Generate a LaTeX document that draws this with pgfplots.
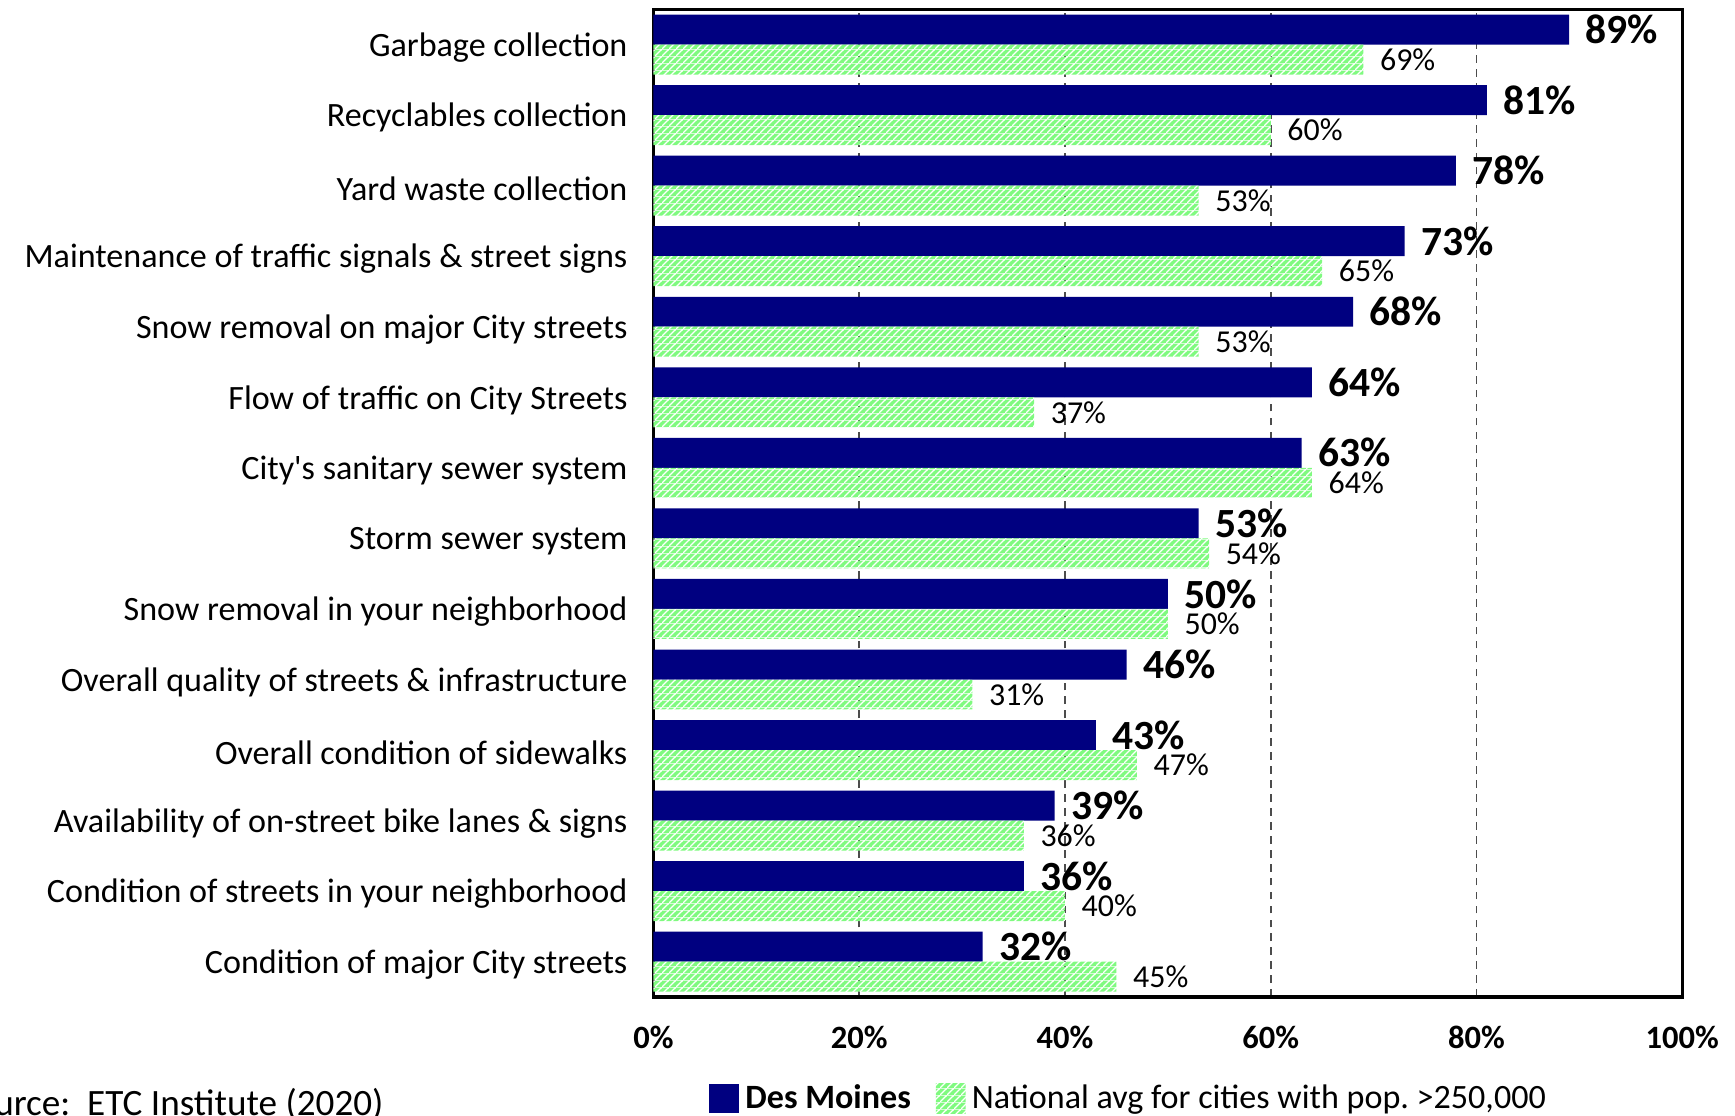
\documentclass[border=0pt]{standalone}
\usepackage{fontspec}
\setmainfont{Carlito}
\usepackage{pgfplots}
\pgfplotsset{compat=1.18}
\usetikzlibrary{patterns}
\definecolor{navy}{RGB}{0,0,128}
\definecolor{lgreen}{RGB}{128,250,128}
\pgfdeclarepatterninherentlycolored{glines}{\pgfpointorigin}{\pgfqpoint{2.3pt}{2.3pt}}{\pgfqpoint{2.3pt}{2.3pt}}{%
  \pgfsetfillcolor{lgreen}%
  \pgfpathrectangle{\pgfpointorigin}{\pgfqpoint{2.3pt}{2.3pt}}%
  \pgfusepath{fill}%
  \pgfsetstrokecolor{white}%
  \pgfsetlinewidth{0.42pt}%
  \pgfpathmoveto{\pgfqpoint{-0.3pt}{-0.3pt}}%
  \pgfpathlineto{\pgfqpoint{2.6pt}{2.6pt}}%
  \pgfusepath{stroke}%
}
\pgfplotstableread{
y dm nat
0 32 45
1 36 40
2 39 36
3 43 47
4 46 31
5 50 50
6 53 54
7 63 64
8 64 37
9 68 53
10 73 65
11 78 53
12 81 60
13 89 69
}\datatable
\begin{document}
\begin{tikzpicture}
\begin{axis}[
  name=ax,
  xbar,
  scale only axis, width=332.1pt, height=318.8pt,
  xmin=0, xmax=100, ymin=-0.5, ymax=13.5,
  enlargelimits=false,
  axis line style={line width=1.1pt},
  xtick={0,20,40,60,80,100},
  xticklabels={0\%,20\%,40\%,60\%,80\%,100\%},
  xticklabel style={font=\fontsize{10.5}{12}\selectfont\bfseries, inner sep=0pt, yshift=-9.2pt},
  ytick={0,...,13},
  yticklabels={Condition of major City streets,
    Condition of streets in your neighborhood,
    Availability of on-street bike lanes \& signs,
    Overall condition of sidewalks,
    Overall quality of streets \& infrastructure,
    Snow removal in your neighborhood,
    Storm sewer system,
    City\textquotesingle s sanitary sewer system,
    Flow of traffic on City Streets,
    Snow removal on major City streets,
    Maintenance of traffic signals \& street signs,
    Yard waste collection,
    Recyclables collection,
    Garbage collection},
  yticklabel style={font=\fontsize{11}{13}\selectfont, inner sep=0pt, xshift=-8.2pt, yshift=-0.9pt},
  major tick length=0pt,
  xmajorgrids,
  grid style={dash pattern=on 2.5pt off 2pt, black!70, line width=0.5pt},
  bar width=9.68pt,
  point meta=x,
  nodes near coords={\pgfmathprintnumber[assume math mode=true]{\pgfplotspointmeta}\%},
  nodes near coords style={anchor=west, inner sep=0pt, xshift=5.2pt, text=black},
  legend columns=2,
  legend image code/.code={\path[#1] (0pt,-4.8pt) rectangle (9.6pt,4.8pt);},
  legend style={at={(rel axis cs:0,0)}, anchor=west, xshift=17.9pt, yshift=-32.8pt,
    draw=none, inner sep=0pt, font=\fontsize{11}{13}\selectfont,
    /tikz/every even column/.append style={column sep=6.1pt},
    nodes={inner xsep=2pt, inner ysep=0pt}},
]
\addplot[fill=navy, draw=none, bar shift=4.84pt,
  nodes near coords style={font=\fontsize{13.4}{15}\selectfont\bfseries}]
  table[x=dm, y=y] {\datatable};
\addlegendentry{\textbf{Des Moines}}
\addplot[pattern=glines, draw=none, bar shift=-4.84pt,
  nodes near coords style={font=\fontsize{10.3}{12}\selectfont}]
  table[x=nat, y=y] {\datatable};
\addlegendentry{National avg for cities with pop.\ >250,000}
\end{axis}
\node[anchor=east, inner sep=0pt, font=\fontsize{12}{14}\selectfont] at ([xshift=-86.9pt, yshift=-34.6pt]ax.south west) {Source:\ \ ETC Institute (2020)};
\pgfresetboundingbox
\path[use as bounding box] ([xshift=-210.9pt, yshift=-38.1pt]ax.south west) rectangle ([xshift=17.0pt, yshift=3.0pt]ax.north east);
\end{tikzpicture}
\end{document}
